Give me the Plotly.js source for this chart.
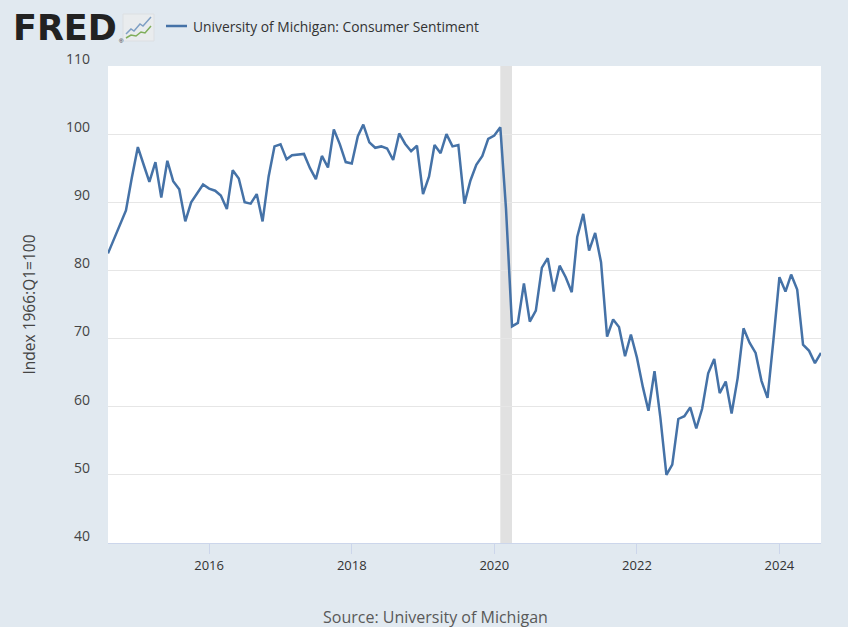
<!DOCTYPE html>
<html>
<head>
<meta charset="utf-8">
<script src="https://cdn.plot.ly/plotly-3.0.1.min.js"></script>
<style>
html,body{margin:0;padding:0;background:#e1e9f0;}
#chart{width:848px;height:627px;}
</style>
</head>
<body>
<div id="chart"></div>
<script>
// Data: University of Michigan Consumer Sentiment (UMCSENT), monthly from 2014-08
const startYear = 2014;
const startMonth = 8;
const sentiment = [
  82.5, 84.6, 86.9, 88.8, 93.6,                                       // 2014 Aug-Dec
  98.1, 95.4, 93.0, 95.9, 90.7, 96.1, 93.1, 91.9, 87.2, 90.0, 91.3, 92.6, // 2015
  92.0, 91.7, 91.0, 89.0, 94.7, 93.5, 90.0, 89.8, 91.2, 87.2, 93.8, 98.2, // 2016
  98.5, 96.3, 96.9, 97.0, 97.1, 95.0, 93.4, 96.8, 95.1, 100.7, 98.5, 95.9, // 2017
  95.7, 99.7, 101.4, 98.8, 98.0, 98.2, 97.9, 96.2, 100.1, 98.6, 97.5, 98.3, // 2018
  91.2, 93.8, 98.4, 97.2, 100.0, 98.2, 98.4, 89.8, 93.2, 95.5, 96.8, 99.3, // 2019
  99.8, 101.0, 89.1, 71.8, 72.3, 78.1, 72.5, 74.1, 80.4, 81.8, 76.9, 80.7, // 2020
  79.0, 76.8, 84.9, 88.3, 82.9, 85.5, 81.2, 70.3, 72.8, 71.7, 67.4, 70.6,  // 2021
  67.2, 62.8, 59.4, 65.2, 58.4, 50.0, 51.5, 58.2, 58.6, 59.9, 56.8, 59.7,  // 2022
  64.9, 67.0, 62.0, 63.7, 59.0, 64.2, 71.5, 69.4, 67.9, 63.8, 61.3, 69.7,  // 2023
  79.0, 76.9, 79.4, 77.2, 69.1, 68.2, 66.4, 67.9                          // 2024 Jan-Aug
];
const seriesName = "University of Michigan: Consumer Sentiment";
const yTitle = "Index 1966:Q1=100";
const sourceText = "Source: University of Michigan";
const xTickYears = ["2016", "2018", "2020", "2022", "2024"];
const recessionStart = "2020-02-01";
const recessionEnd = "2020-04-01";
const xRange = ["2014-08-01", "2024-08-01"];

const dates = sentiment.map((v, i) => {
  const m0 = startMonth - 1 + i;
  const y = startYear + Math.floor(m0 / 12);
  const m = (m0 % 12) + 1;
  return y + "-" + String(m).padStart(2, "0") + "-01";
});

// pixel helpers for decorations in the header (paper coords)
const W = 848, H = 627, L = 108, R = 27, T = 66, B = 84;
const pw = W - L - R, ph = H - T - B;
const px = x => (x - L) / pw;
const py = y => (H - B - y) / ph;

const trace = {
  x: dates, y: sentiment, type: "scatter", mode: "lines",
  name: seriesName,
  line: {color: "#4572a7", width: 2.5},
  showlegend: false
};

const iconBlue = [[126,34],[131,29],[134,31],[140,24],[143,26],[151,17]];
const iconGreen = [[126,38],[131,35],[136,36],[141,32],[145,33],[151,26]];
const toPath = pts => pts.map((p, i) => (i ? "L" : "M") + px(p[0]) + "," + py(p[1])).join(" ");

const layout = {
  width: W, height: H,
  margin: {l: L, r: R, t: T, b: B, pad: 0},
  paper_bgcolor: "#e1e9f0",
  plot_bgcolor: "#ffffff",
  font: {family: "Open Sans, sans-serif", color: "#333333"},
  xaxis: {
    type: "date", range: xRange,
    tickvals: xTickYears.map(y => y + "-01-01"),
    ticktext: xTickYears,
    ticks: "outside", ticklen: 10, tickcolor: "#ccd6eb", tickwidth: 1,
    showline: true, linecolor: "#ccd6eb", linewidth: 1,
    showgrid: false, zeroline: false,
    tickfont: {size: 13, color: "#333333"}
  },
  yaxis: {
    range: [40, 110], dtick: 10, tick0: 40,
    showgrid: true, gridcolor: "#e6e6e6", gridwidth: 1,
    zeroline: false, showline: false, ticks: "",
    tickfont: {size: 14, color: "#444444"},
    ticklabelstandoff: 17,
    ticklabelshift: -7,
    title: {text: yTitle, font: {size: 15.5, color: "#444444"}, standoff: 26}
  },
  shapes: [
    {type: "rect", xref: "x", yref: "paper", x0: recessionStart, x1: recessionEnd,
     y0: 0, y1: 1, fillcolor: "#e1e1e1", line: {width: 0}, layer: "below"},
    // legend line sample
    {type: "line", xref: "paper", yref: "paper", x0: px(166), x1: px(187), y0: py(26), y1: py(26),
     line: {color: "#4572a7", width: 2.5}},
    // FRED icon
    {type: "rect", xref: "paper", yref: "paper", x0: px(123), x1: px(154), y0: py(41), y1: py(14),
     fillcolor: "#e9ecee", line: {color: "#dcdfe2", width: 1}},
    {type: "path", xref: "paper", yref: "paper", path: toPath(iconBlue),
     line: {color: "#7e9fc4", width: 1.5}},
    {type: "path", xref: "paper", yref: "paper", path: toPath(iconGreen),
     line: {color: "#7fae5a", width: 1.5}}
  ],
  annotations: [
    {text: "<b>FRED</b>", xref: "paper", yref: "paper", x: px(11), y: py(28),
     xanchor: "left", yanchor: "middle", showarrow: false,
     font: {family: "DejaVu Sans, sans-serif", size: 35, color: "#222222"}},
    {text: "®", xref: "paper", yref: "paper", x: px(117), y: py(41),
     xanchor: "left", yanchor: "middle", showarrow: false,
     font: {family: "Liberation Sans, Arial, sans-serif", size: 6, color: "#222222"}},
    {text: seriesName, xref: "paper", yref: "paper", x: px(191), y: py(26),
     xanchor: "left", yanchor: "middle", showarrow: false,
     font: {size: 13.8, color: "#333333"}},
    {text: sourceText, xref: "paper", yref: "paper", x: px(435), y: py(617),
     xanchor: "center", yanchor: "middle", showarrow: false,
     font: {size: 16, color: "#595959"}}
  ]
};

Plotly.newPlot("chart", [trace], layout, {displayModeBar: false, staticPlot: true});
</script>
</body>
</html>
